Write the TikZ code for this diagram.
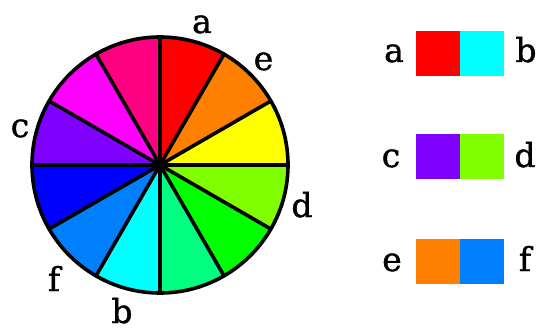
\documentclass[tikz,border=0pt]{standalone}
\usepackage{fontspec}
\setmainfont[FakeBold=1.2]{DejaVu Serif}
\definecolor{cRed}{HTML}{FF0000}
\definecolor{cOrange}{HTML}{FF8000}
\definecolor{cYellow}{HTML}{FFFF00}
\definecolor{cChart}{HTML}{80FF00}
\definecolor{cGreen}{HTML}{00FF00}
\definecolor{cSpring}{HTML}{00FF80}
\definecolor{cCyan}{HTML}{00FFFF}
\definecolor{cAzure}{HTML}{0080FF}
\definecolor{cBlue}{HTML}{0000FF}
\definecolor{cViolet}{HTML}{8000FF}
\definecolor{cMagenta}{HTML}{FF00FF}
\definecolor{cRose}{HTML}{FF0080}
\begin{document}
\begin{tikzpicture}[x=1pt,y=-1pt,
  lab/.style={font=\fontsize{33}{33}\selectfont, inner sep=0pt, anchor=base},
  swatch/.style={minimum width=44pt, minimum height=45pt, inner sep=0pt, draw=none},
  rim/.style={line width=3.6pt, black}]
\useasboundingbox (0,0) rectangle (539,329);
\begin{scope}[shift={(160,165)}, yscale=-1]
  \foreach \c [count=\i from 0] in {cRed,cOrange,cYellow,cChart,cGreen,cSpring,cCyan,cAzure,cBlue,cViolet,cMagenta,cRose}{
    \fill[\c] (0,0) -- (90-30*\i:128) arc[start angle=90-30*\i, end angle=60-30*\i, radius=128] -- cycle;
  }
  \foreach \a in {0,30,...,330}{
    \draw[rim] (0,0) -- (\a:128);
  }
  \draw[rim] (0,0) circle[radius=128];
  \fill[black] (0,0) circle[radius=4.5];
\end{scope}
% wheel labels
\node[lab] (wa) at (202,33) {a};
\node[lab] (we) at (263.5,70) {e};
\node[lab] (wc) at (20,137) {c};
\node[lab] (wd) at (302,217) {d};
\node[lab] (wf) at (54,291) {f};
\node[lab] (wb) at (122,323) {b};
% legend
\node[swatch, fill=cRed] (sa) at (438,53.5) {};
\node[swatch, fill=cCyan] (sb) at (482,53.5) {};
\node[swatch, fill=cViolet] (sc) at (438,156.5) {};
\node[swatch, fill=cChart] (sd) at (482,156.5) {};
\node[swatch, fill=cOrange] (se) at (438,261.5) {};
\node[swatch, fill=cAzure] (sf) at (482,261.5) {};
\node[lab] (la) at (394,62) {a};
\node[lab] (lb) at (526,62) {b};
\node[lab] (lc) at (391,167) {c};
\node[lab] (ld) at (525,167) {d};
\node[lab] (le) at (392,271) {e};
\node[lab] (lf) at (525,271) {f};
\end{tikzpicture}
\end{document}
